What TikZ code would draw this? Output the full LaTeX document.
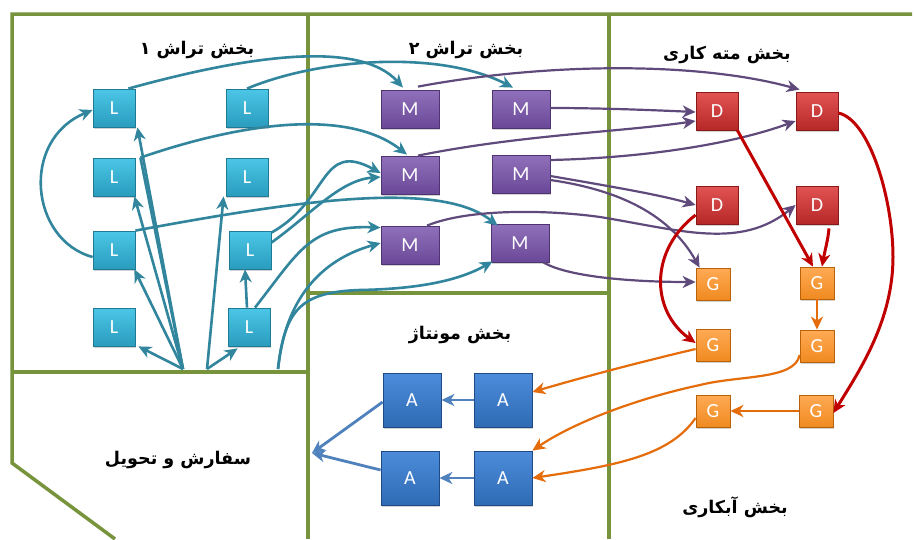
\documentclass[tikz,border=0pt]{standalone}
\usepackage{fontspec}
\setsansfont{Carlito}
\newfontfamily\fa[Script=Arabic]{DejaVu Sans}
\TeXXeTstate=1
\usetikzlibrary{arrows.meta,shadows}
\definecolor{frameC}{HTML}{77933C}
\definecolor{tealA}{HTML}{31859C}
\definecolor{purpA}{HTML}{604A7B}
\definecolor{redA}{HTML}{C00000}
\definecolor{oranA}{HTML}{E46C0A}
\definecolor{blueA}{HTML}{4F81BD}
\definecolor{lT}{HTML}{4CC6E6}\definecolor{lB}{HTML}{2A9CBE}\definecolor{lE}{HTML}{1F7A94}
\definecolor{mT}{HTML}{9070BA}\definecolor{mB}{HTML}{6A4898}\definecolor{mE}{HTML}{4E3470}
\definecolor{dT}{HTML}{E25454}\definecolor{dB}{HTML}{B62828}\definecolor{dE}{HTML}{8A1A1A}
\definecolor{gT}{HTML}{FFAA55}\definecolor{gB}{HTML}{F08A20}\definecolor{gE}{HTML}{B8620A}
\definecolor{aT}{HTML}{4C8CDA}\definecolor{aB}{HTML}{2F6BB5}\definecolor{aE}{HTML}{1F4A85}
\begin{document}
\begin{tikzpicture}[x=1pt,y=-1pt,
  mbox/.style n args={3}{rectangle, inner sep=0pt, top color=#1, bottom color=#2, draw=#3, line width=0.8pt, text=white, font=\sffamily\fontsize{20}{20}\selectfont, drop shadow={opacity=0.35, shadow xshift=1.2pt, shadow yshift=-1.8pt}},
  lbox/.style={mbox={lT}{lB}{lE}, minimum width=42pt, minimum height=38pt},
  mmbox/.style={mbox={mT}{mB}{mE}, minimum width=58pt, minimum height=38pt},
  dbox/.style={mbox={dT}{dB}{dE}, minimum width=42pt, minimum height=38pt},
  gbox/.style={mbox={gT}{gB}{gE}, minimum width=34pt, minimum height=32pt},
  abox/.style={mbox={aT}{aB}{aE}, minimum width=58pt, minimum height=54pt},
  frame/.style={draw=frameC, line width=3.5pt},
  title/.style={font=\fa\bfseries\fontsize{17.5}{17.5}\selectfont, inner sep=0pt},
  tip/.style={-{Stealth[length=13pt,width=12pt,inset=4pt]}},
  tealL/.style={draw=tealA, line width=2.6pt, tip},
  tealN/.style={draw=tealA, line width=2.6pt},
  purpL/.style={draw=purpA, line width=2.2pt, tip},
  redL/.style={draw=redA, line width=3pt, tip},
  oranL/.style={draw=oranA, line width=2.2pt, tip},
  blueL/.style={draw=blueA, line width=2.8pt, tip}
]
\useasboundingbox (0,0) rectangle (914,539);
\fill[white] (0,0) rectangle (914,539);
% frames
\draw[frame] (115,539) -- (12,463) -- (12,14) -- (912,14);
\draw[frame] (12,372) -- (307,372);
\draw[frame] (308,14) -- (308,539);
\draw[frame] (609,14) -- (609,539);
\draw[frame] (308,293) -- (609,293);
% titles
\node[title] (t1) at (197,50) {\beginR بخش تراش ۱\endR};
\node[title] (t2) at (466,50) {\beginR بخش تراش ۲\endR};
\node[title] (t3) at (727,55) {\beginR بخش مته کاری\endR};
\node[title] (t4) at (460,335) {\beginR بخش مونتاژ\endR};
\node[title] (t5) at (178,460) {\beginR سفارش و تحویل\endR};
\node[title] (t6) at (735,507) {\beginR بخش آبکاری\endR};
% nodes
\node[lbox] (L1) at (114,108) {L};
\node[lbox] (L2) at (247,108) {L};
\node[lbox] (L3) at (114,177) {L};
\node[lbox] (L4) at (247,177) {L};
\node[lbox] (L5) at (114,250) {L};
\node[lbox] (L6) at (250,250) {L};
\node[lbox] (L7) at (114,327) {L};
\node[lbox] (L8) at (249,327) {L};
\node[mmbox] (M1) at (410,109) {M};
\node[mmbox] (M2) at (521,109) {M};
\node[mmbox] (M3) at (410,175) {M};
\node[mmbox] (M4) at (521,174) {M};
\node[mmbox] (M5) at (410,245) {M};
\node[mmbox] (M6) at (520,243) {M};
\node[dbox] (D1) at (717,111) {D};
\node[dbox] (D2) at (817,111) {D};
\node[dbox] (D3) at (717,205) {D};
\node[dbox] (D4) at (817,205) {D};
\node[gbox] (G1) at (713,284) {G};
\node[gbox] (G2) at (817,283) {G};
\node[gbox] (G3) at (713,345) {G};
\node[gbox] (G4) at (817,346) {G};
\node[gbox] (G5) at (713,411) {G};
\node[gbox] (G6) at (816,411) {G};
\node[abox] (A1) at (412,400) {A};
\node[abox] (A2) at (503,400) {A};
\node[abox] (A3) at (410,478) {A};
\node[abox] (A4) at (503,478) {A};
\coordinate (o1) at (183,369);
\coordinate (o1b) at (207,369);
\coordinate (o2) at (278,369);
\coordinate (out) at (312,453);
% teal
\draw[tealL] (o1) -- ([xshift=2pt]L1.south east);
\draw[tealL] (o1) -- ([xshift=-1pt]L3.south east);
\draw[tealL] (o1) -- ([xshift=-1pt]L5.south east);
\draw[tealL] (o1) -- ([xshift=3pt]L7.south east);
\draw[tealN] (o1) -- ([xshift=5pt]L3.north east);
\draw[tealL] (o1b) -- ([xshift=-2pt]L4.south west);
\draw[tealL] (o1b) -- ([xshift=10pt,yshift=-2pt]L8.south west);
\draw[tealL] ([xshift=-2pt]L8.north) -- ([xshift=-5pt]L6.south);
\draw[tealL] ([xshift=-7pt]L1.north east) .. controls (250,55) and (360,40) .. ([xshift=-7pt,yshift=2pt]M1.north);
\draw[tealL] ([xshift=0pt]L2.north) .. controls (320,58) and (440,50) .. ([xshift=-8pt,yshift=2pt]M2.north);
\draw[tealL] ([xshift=5pt]L3.north east) .. controls (250,120) and (350,110) .. ([xshift=-3pt,yshift=1pt]M3.north);
\draw[tealL] ([yshift=-7pt]L5.west) .. controls (30,240) and (20,140) .. ([yshift=-2pt]L1.west);
\draw[tealL] (L5.north east) .. controls (300,200) and (440,180) .. ([xshift=7pt,yshift=-2pt]M6.north west);
\draw[tealL] ([yshift=-2pt]L6.north east) .. controls (330,200) and (320,140) .. ([yshift=2pt]M3.west);
\draw[tealL] ([yshift=-12pt]L6.north east) .. controls (310,215) and (340,180) .. ([yshift=-2pt]M3.west);
\draw[tealL] ([xshift=6pt]L8.north) .. controls (300,250) and (310,225) .. ([yshift=-2pt]M5.north west);
\draw[tealL] (o2) .. controls (285,300) and (320,260) .. ([yshift=2pt]M5.west);
\draw[tealL] (o2) .. controls (285,310) and (300,292) .. (360,290) .. controls (420,289) and (460,280) .. ([xshift=2pt,yshift=1pt]M6.south west);
% purple
\draw[purpL] ([xshift=8pt,yshift=3pt]M1.north) .. controls (550,62) and (700,62) .. ([xshift=4pt,yshift=2pt]D2.north west);
\draw[purpL] ([yshift=1pt]M2.east) .. controls (600,108) and (650,110) .. ([yshift=-1pt]D1.west);
\draw[purpL] ([xshift=8pt]M3.north) .. controls (520,135) and (620,132) .. ([yshift=-10pt]D1.west);
\draw[purpL] ([yshift=14pt]M4.east) .. controls (640,158) and (730,145) .. ([yshift=-10pt]D2.west);
\draw[purpL] ([yshift=-2pt]M4.east) .. controls (620,188) and (660,195) .. (D3.west);
\draw[purpL] ([yshift=-6pt]M4.east) .. controls (620,190) and (670,215) .. ([xshift=4pt]G1.north west);
\draw[purpL] ([xshift=17pt]M5.north) .. controls (470,208) and (550,210) .. (600,217) .. controls (680,230) and (740,250) .. (D4.west);
\draw[purpL] ([xshift=-6pt]M6.south east) .. controls (570,278) and (640,282) .. ([yshift=2pt]G1.west);
% red
\draw[redL] ([xshift=-1pt]D1.south east) -- ([xshift=-4pt]G2.north);
\draw[redL] ([xshift=12pt,yshift=-4pt]D4.south) .. controls (828,240) and (825,250) .. ([xshift=5pt]G2.north);
\draw[redL] ([yshift=-10pt]D3.west) .. controls (650,250) and (650,310) .. ([yshift=2pt]G3.west);
\draw[redL] ([yshift=-2pt]D2.east) .. controls (870,120) and (893,200) .. (893,257) .. controls (893,320) and (860,370) .. ([yshift=-2pt]G6.east);
% orange
\draw[oranL] (G2.south) -- (G4.north);
\draw[oranL] (G6.west) -- (G5.east);
\draw[oranL] ([yshift=-4pt]G3.west) .. controls (640,362) and (580,378) .. ([yshift=8pt]A2.east);
\draw[oranL] ([yshift=-9pt]G4.west) .. controls (795,380) and (740,375) .. (700,385) .. controls (630,400) and (570,425) .. (A4.north east);
\draw[oranL] ([yshift=-7pt]G5.west) .. controls (670,455) and (620,465) .. (A4.east);
% blue
\draw[blueL] (A2.west) -- (A1.east);
\draw[blueL] (A4.west) -- (A3.east);
\draw[blueL] ([yshift=-2pt]A1.west) -- (out);
\draw[blueL] ([yshift=8pt]A3.west) -- (out);
\end{tikzpicture}
\end{document}
